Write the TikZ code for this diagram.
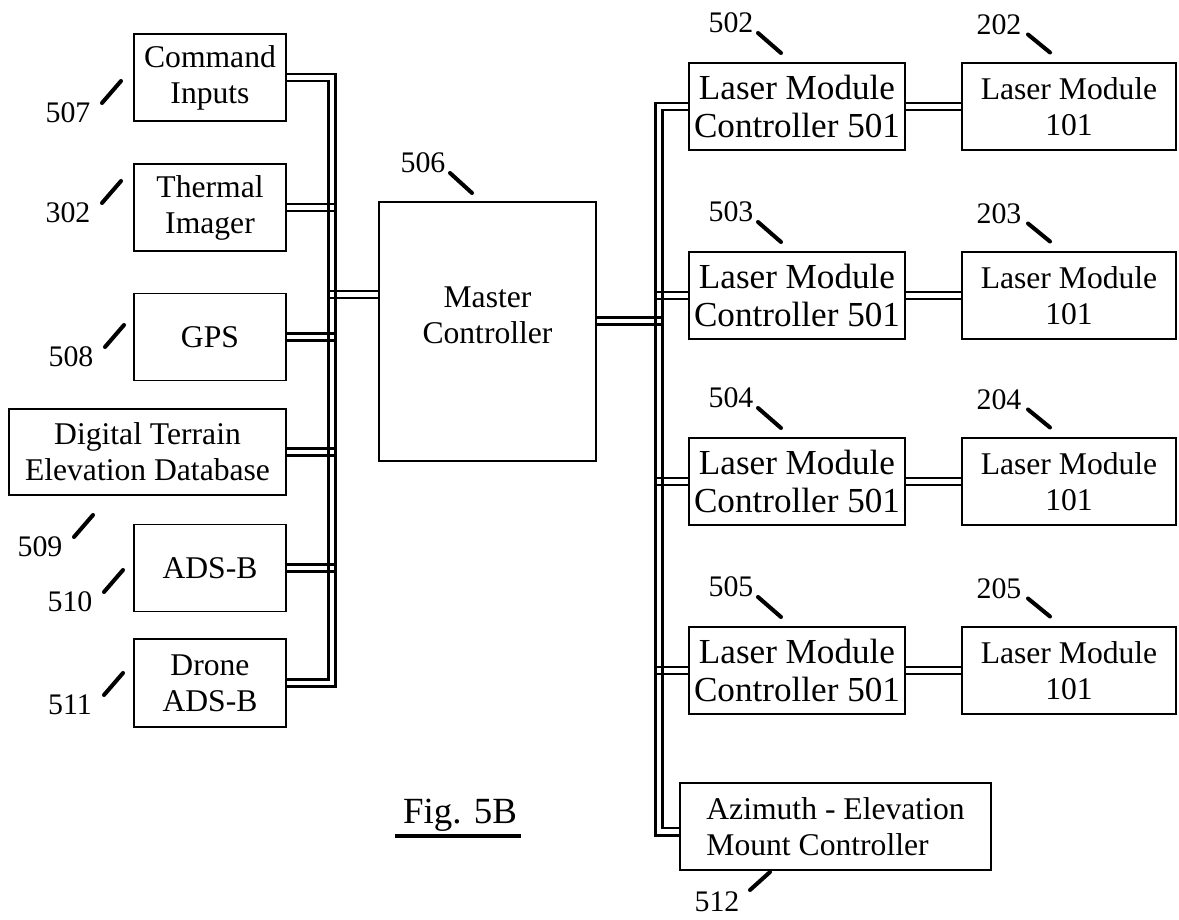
\documentclass[tikz,border=0pt]{standalone}
\usepackage{fontspec}
\setmainfont{Liberation Serif}

\tikzset{
    box/.style={draw, line width=0.9pt, align=center, inner sep=0pt, minimum height=1.74cm,
        font=\fontsize{18}{20.5}\selectfont},
    bigtext/.style={font=\fontsize{20}{21.5}\selectfont},
    bus/.style={line width=1.2pt, double, double distance=2.8pt},
    wire/.style={line width=1.2pt},
    lead/.style={line width=2.3pt, line cap=round},
    tag/.style={font=\fontsize{17}{17}\selectfont, inner sep=0pt},
}

% two thin lines from a box side to one line of the bus
\newcommand{\tap}[3]{%
    \foreach \s in {-2pt,2pt}
        \draw[wire] ([yshift={#3+(\s)}]#1) -- ([yshift={#3+(\s)}]#1 -| #2);}

\begin{document}
\begin{tikzpicture}[x=0.02cm, y=-0.02cm]

    \useasboundingbox (0,0) rectangle (1179,919);

    % inputs
    \node[box, minimum width=3.04cm] (cmd) at (210,77.5) {Command\\Inputs};
    \node[box, minimum width=3.04cm] (therm) at (210,207.5) {Thermal\\Imager};
    \node[box, minimum width=3.04cm] (gps) at (210,337) {GPS};
    \node[box, minimum width=5.54cm, minimum height=1.72cm] (dted) at (147.5,452) {Digital Terrain\\Elevation Database};
    \node[box, minimum width=3.04cm] (adsb) at (210,568) {ADS-B};
    \node[box, minimum width=3.04cm, minimum height=1.76cm] (drone) at (210,683) {Drone\\ADS-B};

    \node[box, minimum width=4.34cm, minimum height=5.18cm,
        label={[align=center, yshift=9.4pt, font=\fontsize{18}{20.5}\selectfont]center:Master\\Controller}] (master) at (487.5,331.5) {};

    % laser modules
    \foreach \i/\y/\a/\b in {1/106.5/502/202, 2/295.5/503/203, 3/481.5/504/204, 4/670.5/505/205}
    {
        \node[box, bigtext, minimum width=4.32cm] (lmc\i) at (797,\y) {Laser Module\\Controller 501};
        \node[box, minimum width=4.28cm] (lm\i) at (1069,\y) {Laser Module\\101};
        \node[tag] (t\a) at (731,\y-83.5) {\a};
        \node[tag] (t\b) at (999,\y-82) {\b};
        \draw[lead] ([shift={(27,10)}]t\a.center) -- ([shift={(50,30)}]t\a.center);
        \draw[lead] ([shift={(29,10)}]t\b.center) -- ([shift={(51,28)}]t\b.center);
    }

    \node[box, align=left, minimum width=6.22cm] (az) at (835.5,826.5) {Azimuth - Elevation\\Mount Controller};

    % bus lines
    \coordinate (lbus) at (332,400);
    \coordinate (lbusW) at (328.5,400);
    \coordinate (lbusE) at (335.5,400);
    \coordinate (rbus) at (659,400);
    \coordinate (rbusW) at (655.5,400);
    \coordinate (rbusE) at (662.5,400);

    \draw[bus] (cmd.east) -| (lbus) |- (drone.east);
    \draw[bus] (lmc1.west) -| (rbus) |- ([yshift=-3.1pt]az.west);

    \foreach \n in {therm,gps,dted,adsb}
        \tap{\n.east}{lbusE}{0pt};
    \tap{master.west}{lbusW}{21.3pt}
    \tap{master.east}{rbusE}{6pt}
    \foreach \i in {2,3,4}
        \tap{lmc\i.west}{rbusW}{0pt};
    \foreach \i in {1,...,4}
        \draw[bus] (lmc\i.east) -- (lm\i.west);

    % reference numerals
    \foreach \a/\x/\y in {507/68/113, 302/68/213, 508/71/357, 509/40/547, 510/70/602, 511/70/705}
    {
        \node[tag] (t\a) at (\x,\y) {\a};
        \draw[lead] ([shift={(34,-10)}]t\a.center) -- ([shift={(53,-32)}]t\a.center);
    }
    \node[tag] (t506) at (423,163) {506};
    \draw[lead] ([shift={(27,10)}]t506.center) -- ([shift={(49,30)}]t506.center);
    \node[tag] (t512) at (717,902) {512};
    \draw[lead] ([shift={(33,-12)}]t512.center) -- ([shift={(53,-30)}]t512.center);

    % caption
    \node[font=\fontsize{21}{21}\selectfont, inner sep=0pt, anchor=base] (cap) at (460,823) {Fig. 5B};
    \draw[line width=2.4pt] ([shift={(-65,13)}]cap.base) -- ([shift={(61,13)}]cap.base);

\end{tikzpicture}
\end{document}
